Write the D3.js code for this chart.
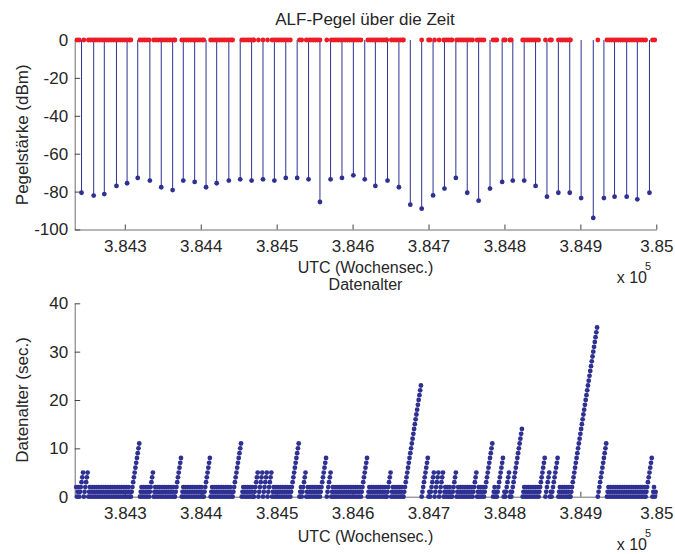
<!DOCTYPE html>
<html><head><meta charset="utf-8">
<script src="https://cdn.jsdelivr.net/npm/d3@7"></script>
<style>
html,body{margin:0;padding:0;background:#fff;}
svg{display:block;font-family:"Liberation Sans",Arial,Helvetica,sans-serif;}
</style></head><body>
<svg id="chart" width="675" height="554"></svg>
<script>
// ---------- data ----------
const xTickValues = [384300, 384400, 384500, 384600, 384700, 384800, 384900, 385000];
const xTickLabels = ["3.843", "3.844", "3.845", "3.846", "3.847", "3.848", "3.849", "3.85"];
const pegelTicks = [0, -20, -40, -60, -80, -100];
const pegelTickLabels = ["0", "-20", "-40", "-60", "-80", "-100"];
const alterTicks = [0, 10, 20, 30, 40];
const alterTickLabels = ["0", "10", "20", "30", "40"];

// ALF level readings (UTC week seconds, dBm)
const levelTimes = [384243, 384259, 384273, 384289, 384303, 384317, 384333, 384348, 384363, 384377,
  384392, 384407, 384421, 384437, 384452, 384467, 384482, 384497, 384512, 384527,
  384542, 384557, 384571, 384586, 384601, 384616, 384630, 384646, 384661, 384676,
  384691, 384706, 384721, 384736, 384751, 384766, 384781, 384797, 384811, 384826,
  384841, 384856, 384871, 384886, 384901, 384917, 384931, 384945, 384961, 384975, 384991];
const levelValues = [-80.6, -82.1, -81.3, -77.0, -75.6, -72.8, -74.2, -77.7, -79.2, -74.2,
  -74.9, -77.7, -75.6, -74.2, -73.5, -74.2, -73.5, -74.2, -72.8, -72.8,
  -73.5, -85.5, -73.5, -72.8, -71.4, -73.5, -77.0, -74.2, -77.7, -86.9,
  -89.0, -82.0, -78.4, -72.8, -80.6, -84.8, -78.4, -74.9, -74.2, -74.2,
  -77.0, -82.7, -80.6, -80.6, -83.4, -93.9, -83.4, -82.7, -82.7, -84.1, -80.6];

// data age (sec.), one sample per second; each segment starts at the given UTC second
const ageSegmentStarts = [384236, 384308, 384332, 384366, 384404, 384442, 384470,
  384518, 384557, 384611, 384667, 384773, 384845, 384887];
const ageSegmentValues = [
  [2,0,1,2, 0,1,2,3,4,5, 0,1,2,3,4,5,
   0,1,2,0,1,2,0,1,2,0,1,2,0,1,2,0,1,2,
   0,1,2,0,1,2,0,1,2,0,1,2,0,1,2,0,1,2,
   0,1,2,0,1,2,0,1,2,0,1,2,0,1,2,0,1,2, 0,1],
  [0,1,2,3,4,5,6,7,8,9,10,11, 0,1,2,0,1,2,0,1,2,0,1,2],
  [0,1,2,3,4,5, 0,1,2,0,1,2,0,1,2,0,1,2,0,1,2,0,1,2,0,1,2,0,1,2,0,1,2, 0],
  [0,1,2,3,4,5,6,7,8, 0,1,2,0,1,2,0,1,2,0,1,2,0,1,2,0,1,2,0,1,2,0,1,2,0,1,2, 0,1],
  [0,1,2,3,4,5,6,7,8, 0,1,2,0,1,2,0,1,2,0,1,2,0,1,2,0,1,2,0,1,2,0,1,2,0,1,2, 0,1],
  [0,1,2,3,4,5,6,7,8,9,10,11, 0,1,2,0,1,2,0,1,2,0,1,2,0,1,2, 0],
  [0,1,2,3,4,5, 0,1,2,3,4,5, 0,1,2,3,4,5, 0,1,2,3,4,5,
   0,1,2,0,1,2,0,1,2,0,1,2,0,1,2,0,1,2,0,1,2,0,1,2],
  [0,1,2,3,4,5,6,7,8,9,10,11, 0,1,2, 0,1,2,3,4,5, 0,1,2,0,1,2,0,1,2,0,1,2,0,1,2,0,1,2],
  [0,1,2,3,4,5,6,7,8, 0,1,2,3,4,5,
   0,1,2,0,1,2,0,1,2,0,1,2,0,1,2,0,1,2,0,1,2,0,1,2,0,1,2,0,1,2,0,1,2,0,1,2,0,1,2],
  [0,1,2,3,4,5,6,7,8, 0,1,2,0,1,2,0,1,2,0,1,2,0,1,2,0,1,2,0,1,2,0,1,2, 0,
   0,1,2,3,4,5, 0,1,2,0,1,2,0,1,2,0,1,2,0,1,2, 0],
  [0,1,2,3,4,5,6,7,8,9,10,11,12,13,14,15,16,17,18,19,20,21,22,23,
   0,1,2,3,4,5,6,7,8, 0,1, 0,1,2,3,4,5, 0,1,2,3,4,5, 0,1,2,3,4,5,
   0,1,2,0,1,2,0,1,2, 0,1, 0,1,2,3,4,5,
   0,1,2,0,1,2,0,1,2,0,1,2,0,1,2,0,1,2,0,1,2, 0,1,2,3,4,5, 0,1,2,0,1,2,0,1,2],
  [0,1,2,3,4,5,6,7,8,9,10,11, 0,1,2,0,1, 0,1,2,3,4,5,6,7,8, 0,1, 0,1,2,3,4,5, 0,1,
   0,1,2,3,4,5,6,7,8,9,10,11,12,13,14,
   0,1,2,0,1,2,0,1,2,0,1,2,0,1,2,0,1,2,0,1,2],
  [0,1,2,3,4,5,6,7,8, 0,1,2,3,4,5, 0,1, 0,1,2,3,4,5,6,7,8,
   0,1,2,0,1,2,0,1,2,0,1,2,0,1,2, 0],
  [0,1,2,3,4,5,6,7,8,9,10,11,12,13,14,15,16,17,18,19,20,21,22,23,24,25,26,27,28,29,30,31,32,33,34,35,
   0,1,2,3,4,5,6,7,8,9,10,11,
   0,1,2,0,1,2,0,1,2,0,1,2,0,1,2,0,1,2,0,1,2,0,1,2,0,1,2,
   0,1,2,0,1,2,0,1,2,0,1,2,0,1,2,0,1,2,0,1,2,0,1,2,
   0,1,2,3,4,5,6,7,8, 0,1,2,0,1]
];

// ---------- build records ----------
const levelData = levelTimes.map((t, i) => ({t, v: levelValues[i]}));
const ageData = [];
ageSegmentStarts.forEach((s, k) => ageSegmentValues[k].forEach((v, i) => ageData.push({t: s + i, v})));
// level samples with value 0 (fresh message, no level reading) shown in red
const zeroData = ageData.filter(d => d.v === 0).map(d => ({t: d.t, v: 0}));

// ---------- drawing ----------
const BLUE = "#2e3192", RED = "#ed1c24", TXT = "#262626", AX = "#6e6e6e";
const svg = d3.select("#chart");
svg.append("rect").attr("width", 675).attr("height", 554).attr("fill", "#fff");

const x = d3.scaleLinear().domain([384234, 385000]).range([74.7, 656.3]);
const yTop = d3.scaleLinear().domain([-100, 0]).range([229.5, 40]);
const yBot = d3.scaleLinear().domain([0, 40]).range([496.7, 303.3]);

function styleAxis(g) {
  g.attr("font-family", null).attr("font-size", null);
  g.select(".domain").attr("stroke", AX).attr("stroke-width", 1);
  g.selectAll(".tick line").attr("stroke", "#444").attr("stroke-width", 1);
  g.selectAll(".tick text").attr("fill", TXT).style("font-size", "17px");
}

function xAxis(yPos) {
  const g = svg.append("g").attr("transform", `translate(0,${yPos})`)
    .call(d3.axisBottom(x).tickValues(xTickValues).tickFormat((d, i) => xTickLabels[i])
      .tickSizeInner(-5).tickSizeOuter(0).tickPadding(10.5));
  styleAxis(g);
}
function yAxis(scale, ticks, labels) {
  const g = svg.append("g").attr("transform", `translate(74.7,0)`)
    .call(d3.axisLeft(scale).tickValues(ticks).tickFormat((d, i) => labels[i])
      .tickSizeInner(-5.5).tickSizeOuter(0).tickPadding(6.5));
  styleAxis(g);
}

xAxis(229.5); yAxis(yTop, pegelTicks, pegelTickLabels);
xAxis(496.7); yAxis(yBot, alterTicks, alterTickLabels);

// top: stems
svg.append("g").selectAll("line").data(levelData).join("line")
  .attr("x1", d => x(d.t)).attr("x2", d => x(d.t))
  .attr("y1", yTop(0)).attr("y2", d => yTop(d.v))
  .attr("stroke", BLUE).attr("stroke-width", 1);
svg.append("g").selectAll("circle").data(zeroData).join("circle")
  .attr("cx", d => x(d.t)).attr("cy", d => yTop(d.v)).attr("r", 2.4).attr("fill", RED);
svg.append("g").selectAll("circle").data(levelData).join("circle")
  .attr("cx", d => x(d.t)).attr("cy", d => yTop(d.v)).attr("r", 2.4).attr("fill", BLUE);

// bottom: data age
svg.append("g").selectAll("circle").data(ageData).join("circle")
  .attr("cx", d => x(d.t)).attr("cy", d => yBot(d.v)).attr("r", 2.4).attr("fill", BLUE);

// texts
function txt(s, xx, yy, size, anchor, rot) {
  const t = svg.append("text").text(s).attr("fill", TXT).style("font-size", size + "px")
    .attr("text-anchor", anchor || "middle");
  if (rot) t.attr("transform", `translate(${xx},${yy}) rotate(-90)`);
  else t.attr("x", xx).attr("y", yy);
  return t;
}
txt("ALF-Pegel über die Zeit", 365, 24.5, 17);
txt("UTC (Wochensec.)", 365.5, 273, 16);
txt("x 10", 616.7, 283, 16, "start");
txt("5", 645, 270, 11, "start");
txt("Pegelstärke (dBm)", 28, 134.8, 17, "middle", true);

txt("Datenalter", 365.5, 290, 16);
txt("UTC (Wochensec.)", 365.5, 541.5, 16);
txt("x 10", 616.7, 550, 16, "start");
txt("5", 645, 537, 11, "start");
txt("Datenalter (sec.)", 28, 400, 17, "middle", true);
</script>
</body></html>
